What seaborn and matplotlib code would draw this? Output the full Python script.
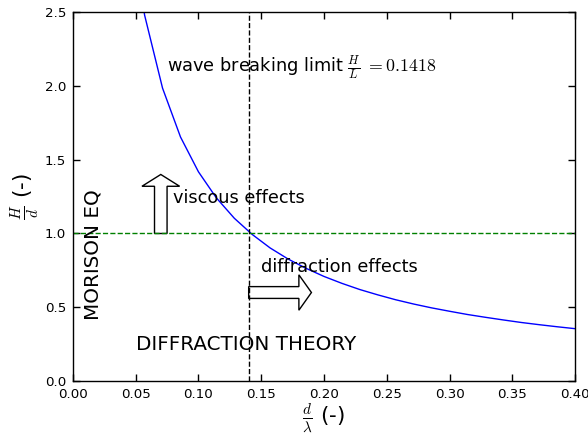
import numpy as np
import pandas as pd
import seaborn as sns
import matplotlib.pyplot as plt

# wave breaking limit curve, H/d against d/lambda
d_lambda = [0.0429, 0.0571, 0.0714, 0.0857, 0.1000, 0.1143, 0.1286, 0.1429,
            0.1571, 0.1714, 0.1857, 0.2000, 0.2143, 0.2286, 0.2429, 0.2571,
            0.2714, 0.2857, 0.3000, 0.3143, 0.3286, 0.3429, 0.3571, 0.3714,
            0.3857, 0.4000]
h_d = [3.31, 2.48, 1.985, 1.654, 1.418, 1.241, 1.103, 0.993,
       0.902, 0.827, 0.764, 0.709, 0.662, 0.620, 0.584, 0.551,
       0.522, 0.496, 0.473, 0.451, 0.432, 0.414, 0.397, 0.382,
       0.368, 0.355]

x_limit = 0.14
y_limit = 1.0
x_ticks = [0.00, 0.05, 0.10, 0.15, 0.20, 0.25, 0.30, 0.35, 0.40]
y_ticks = [0.0, 0.5, 1.0, 1.5, 2.0, 2.5]

df = pd.DataFrame({'d_lambda': d_lambda, 'h_d': h_d})

sns.set_style('ticks')
plt.rcParams['font.family'] = ['DejaVu Sans']
plt.rcParams['mathtext.fontset'] = 'cm'
plt.rcParams['xtick.direction'] = 'in'
plt.rcParams['ytick.direction'] = 'in'
plt.rcParams['text.color'] = 'black'
plt.rcParams['axes.labelcolor'] = 'black'
plt.rcParams['xtick.color'] = 'black'
plt.rcParams['ytick.color'] = 'black'

fig = plt.figure(figsize=(5.88, 4.34), dpi=100)
ax = fig.add_axes([0.124, 0.122, 0.854, 0.850])

sns.lineplot(data=df, x='d_lambda', y='h_d', color='blue', linewidth=1, ax=ax)
ax.axvline(x_limit, color='black', linestyle='--', linewidth=1)
ax.axhline(y_limit, color='green', linestyle='--', linewidth=1)

ax.arrow(0.07, 1.0, 0, 0.32, width=0.01, head_width=0.03, head_length=0.08,
         fc='white', ec='black', linewidth=1)
ax.arrow(0.14, 0.6, 0.04, 0, width=0.08, head_width=0.24, head_length=0.01,
         fc='white', ec='black', linewidth=1)

ax.text(0.075, 2.12, r'wave breaking limit $\frac{H}{L}\ {=}0.1418$', fontsize=12.8, va='center')
ax.text(0.08, 1.24, 'viscous effects', fontsize=12.8, va='center')
ax.text(0.15, 0.77, 'diffraction effects', fontsize=12.8, va='center')
ax.text(0.05, 0.25, 'DIFFRACTION THEORY', fontsize=14.3, va='center')
ax.text(0.016, 0.86, 'MORISON EQ', fontsize=14.3, rotation=90, va='center', ha='center')

ax.set_xlim(0, 0.4)
ax.set_ylim(0, 2.5)
ax.set_xticks(x_ticks)
ax.set_yticks(y_ticks)
ax.set_xticklabels(['%.2f' % t for t in x_ticks])
ax.set_yticklabels(['%.1f' % t for t in y_ticks])
ax.tick_params(labelsize=9.6, top=True, right=True, length=5, width=1, pad=5)
for s in ax.spines.values():
    s.set_color('black')
    s.set_linewidth(1)

ax.set_xlabel(r'$\frac{d}{\lambda}$ (-)', fontsize=15.5, labelpad=0)
ax.set_ylabel(r'$\frac{H}{d}$ (-)', fontsize=15.5, labelpad=2)

plt.savefig('out.png', dpi=100)
